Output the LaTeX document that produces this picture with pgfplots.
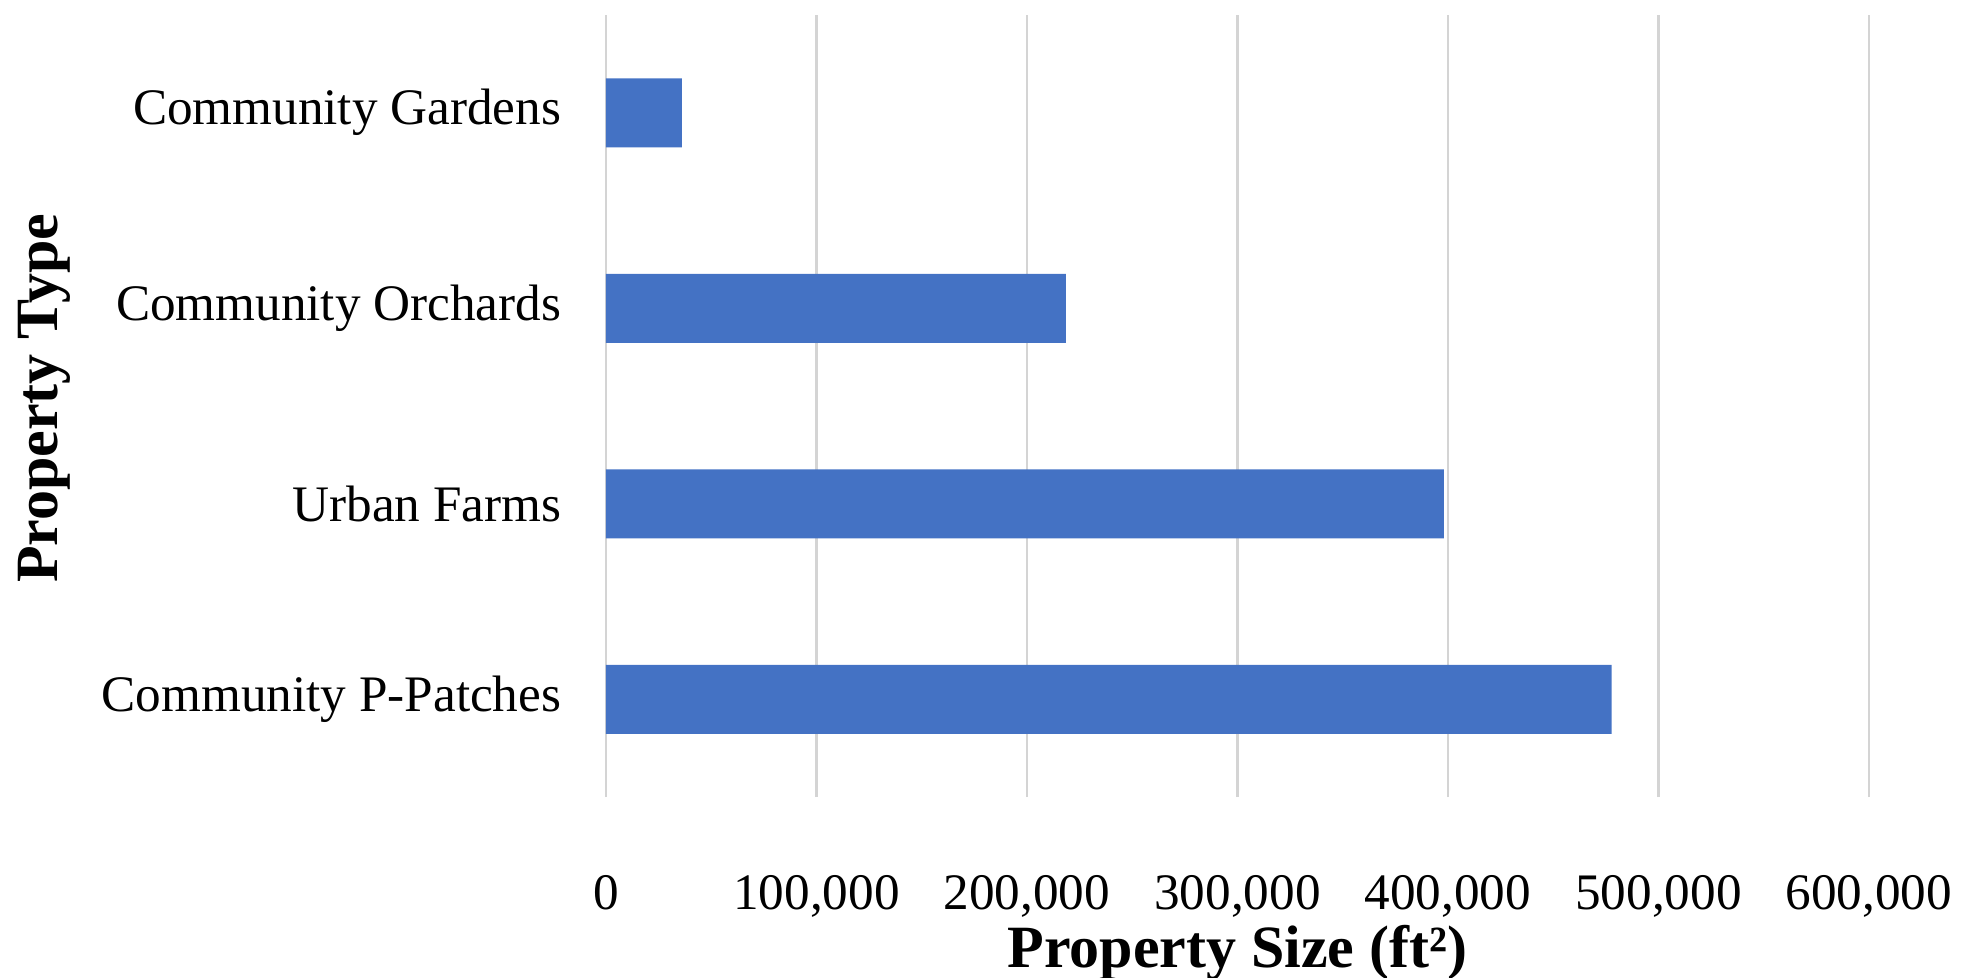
\documentclass[border=0pt]{standalone}
\usepackage{pgfplots}
\pgfplotsset{compat=1.18}
\usepackage{fontspec}
\setmainfont{Liberation Serif}
\definecolor{barblue}{HTML}{4472C4}
\definecolor{gridgray}{HTML}{D4D4D4}
\begin{document}
\begin{tikzpicture}
\path[use as bounding box] (-151.5bp,-45.25bp) rectangle (338.75bp,199.25bp);
\begin{axis}[
  at={(0,0)}, anchor=south west,
  scale only axis,
  width=315.75bp, height=195.5bp,
  xbar, bar width=17.25bp,
  xmin=0, xmax=600000,
  ymin=-0.5, ymax=3.5,
  axis line style={draw=none},
  xtick={0,100000,200000,300000,400000,500000,600000},
  ytick={0,1,2,3},
  yticklabels={Community P-Patches, Urban Farms, Community Orchards, Community Gardens},
  scaled x ticks=false,
  /pgf/number format/assume math mode=true,
  xticklabel={\pgfmathprintnumber[fixed,1000 sep={,}]{\tick}},
  major tick length=0pt,
  xmajorgrids,
  grid style={gridgray, line width=0.6bp},
  tick label style={font=\fontsize{12.8bp}{14bp}\selectfont, text=black},
  xticklabel style={anchor=base, inner sep=0pt, yshift=-28bp},
  yticklabel style={anchor=east, inner sep=0pt, xshift=-11bp},
  xlabel={\textbf{Property Size (ft²)}},
  ylabel={\textbf{Property Type}},
  label style={font=\fontsize{15bp}{17bp}\selectfont},
  xlabel style={at={(axis description cs:0.5,-0.199)}, anchor=center},
  ylabel style={at={(axis description cs:-0.4446,0.51)}, anchor=center, rotate=0},
]
\addplot[fill=barblue, draw=none] coordinates {
  (477700,0) (398100,1) (218500,2) (36100,3)
};
\end{axis}
\end{tikzpicture}
\end{document}
